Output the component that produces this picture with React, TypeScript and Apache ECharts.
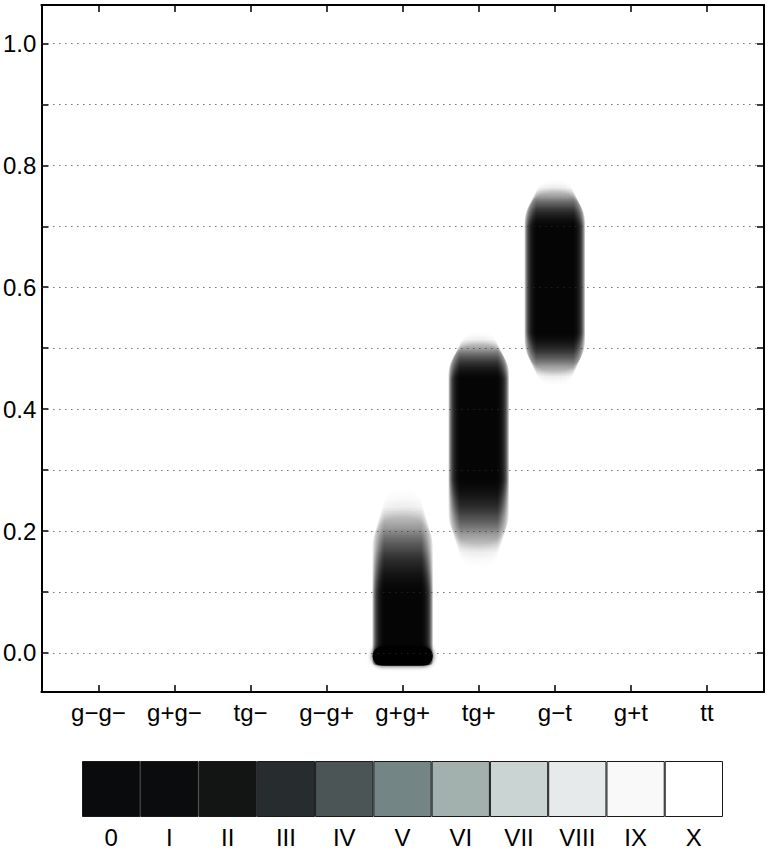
import React, { useEffect, useRef } from 'react';
import * as echarts from 'echarts';

// ---- data ----
const xCategories = ['g−g−', 'g+g−', 'tg−', 'g−g+', 'g+g+', 'tg+', 'g−t', 'g+t', 'tt'];
const xPositions = [1, 2, 3, 4, 5, 6, 7, 8, 9];
const yTickValues = [0, 0.1, 0.2, 0.3, 0.4, 0.5, 0.6, 0.7, 0.8, 0.9, 1.0];
const yLabelValues = [0, 0.2, 0.4, 0.6, 0.8, 1.0];

// density blobs: category position, lower end, dark-core lower, dark-core upper, upper end
const blobCategory = [5, 6, 7];
const blobLow = [-0.02, 0.135, 0.435];
const blobCoreLow = [-0.02, 0.285, 0.525];
const blobCoreHigh = [0.1, 0.45, 0.7];
const blobHigh = [0.275, 0.53, 0.78];

// point mass piled at the lower bound
const pileCategory = [5];
const pileValue = [-0.005];

// grey-level key
const scaleLabels = ['0', 'I', 'II', 'III', 'IV', 'V', 'VI', 'VII', 'VIII', 'IX', 'X'];
const scaleColors = ['#0a0b0c', '#0b0c0d', '#131514', '#272c2f', '#4b5556', '#738584', '#a2b0ae', '#cad4d3', '#e6eaea', '#f9f9f9', '#ffffff'];

const FONT = "'Liberation Sans', Arial, Helvetica, sans-serif";

// fade profile used to shade the tails of each blob (ramp position -> per-layer alpha)
const RAMP_T = [0, 0.2, 0.4, 0.6, 0.8, 1];
const RAMP_A = [0, 0.032, 0.15, 0.35, 0.63, 1];

export default function App() {
  const ref = useRef<HTMLDivElement>(null);
  useEffect(() => {
    if (!ref.current) return;
    const chart = echarts.init(ref.current, undefined, { renderer: 'svg' });

    const blobData = blobCategory.map((c, i) => [c, blobLow[i], blobCoreLow[i], blobCoreHigh[i], blobHigh[i]]);
    const pileData = pileCategory.map((c, i) => [c, pileValue[i]]);

    const renderBlob = (params: any, api: any) => {
      const x = api.value(0);
      const lo = api.value(1), cl = api.value(2), ch = api.value(3), hi = api.value(4);
      const pTop = api.coord([x, hi]);
      const pBot = api.coord([x, lo]);
      const pCH = api.coord([x, ch]);
      const pCL = api.coord([x, cl]);
      const unit = api.size([1, 0])[0];
      const W = unit * 0.79;
      const H = pBot[1] - pTop[1];
      const oCH = (pCH[1] - pTop[1]) / H;
      const oCL = (pCL[1] - pTop[1]) / H;
      const truncated = cl <= lo;
      const stops: any[] = [];
      RAMP_T.forEach((t, j) => {
        stops.push({ offset: oCH * t, color: `rgba(0,0,0,${RAMP_A[j]})` });
      });
      if (truncated) {
        stops.push({ offset: 1, color: 'rgba(0,0,0,1)' });
      } else {
        for (let j = RAMP_T.length - 1; j >= 0; j--) {
          stops.push({ offset: oCL + (1 - oCL) * (1 - RAMP_T[j]), color: `rgba(0,0,0,${RAMP_A[j]})` });
        }
      }
      const grad = new echarts.graphic.LinearGradient(0, pTop[1], 0, pBot[1], stops, true);
      const children: any[] = [];
      const N = 12;
      for (let k = 0; k < N; k++) {
        const f = k / (N - 1);
        const w = W - k * 2;
        const s = 0.72 + 0.28 * f;
        const top = pCH[1] - (pCH[1] - pTop[1]) * s;
        const bot = truncated ? pBot[1] : pCL[1] + (pBot[1] - pCL[1]) * s;
        const rTop = w / 2;
        const rBot = truncated ? 4 : w / 2;
        children.push({
          type: 'rect',
          shape: { x: pTop[0] - w / 2, y: top, width: w, height: bot - top, r: [rTop, rTop, rBot, rBot] },
          style: { fill: grad, opacity: 0.28 },
        });
      }
      return { type: 'group', children };
    };

    const renderPile = (params: any, api: any) => {
      const p = api.coord([api.value(0), api.value(1)]);
      const unit = api.size([1, 0])[0];
      const w = unit * 0.79;
      const h = 19;
      return {
        type: 'rect',
        shape: { x: p[0] - w / 2, y: p[1] - h / 2, width: w, height: h, r: 9 },
        style: { fill: '#000', shadowBlur: 5, shadowColor: 'rgba(0,0,0,0.9)' },
      };
    };

    const xAxisCommon = {
      type: 'value',
      gridIndex: 0,
      min: 0.25,
      max: 9.75,
      axisLine: { show: true, onZero: false, lineStyle: { color: '#000', width: 2 } },
      axisTick: { show: true, inside: true, length: 7, customValues: xPositions, lineStyle: { color: '#000', width: 1.5 } },
      splitLine: { show: false },
    };
    const yAxisCommon = {
      type: 'value',
      gridIndex: 0,
      min: -0.064,
      max: 1.063,
      axisLine: { show: true, onZero: false, lineStyle: { color: '#000', width: 2 } },
      axisTick: { show: true, inside: true, length: 7, customValues: yTickValues, lineStyle: { color: '#000', width: 1.5 } },
      splitLine: { show: false },
    };

    chart.setOption({
      animation: false,
      textStyle: { fontFamily: FONT },
      grid: [
        { left: 39, top: 5, width: 725, height: 687, containLabel: false },
        { left: 82, top: 761, width: 641, height: 56, containLabel: false },
      ],
      xAxis: [
        {
          ...xAxisCommon,
          position: 'bottom',
          axisLabel: {
            show: true,
            customValues: xPositions,
            margin: 8,
            fontSize: 24,
            color: '#000',
            fontFamily: FONT,
            formatter: (v: number) => xCategories[xPositions.indexOf(Math.round(v))] ?? '',
          },
        },
        { ...xAxisCommon, position: 'top', axisLabel: { show: false } },
        {
          type: 'category',
          gridIndex: 1,
          data: scaleLabels,
          axisLine: { show: false },
          axisTick: { show: false },
          axisLabel: { fontSize: 24, color: '#000', margin: 8, fontFamily: FONT },
        },
      ],
      yAxis: [
        {
          ...yAxisCommon,
          position: 'left',
          axisLabel: {
            show: true,
            customValues: yLabelValues,
            margin: 5,
            fontSize: 24,
            color: '#000',
            fontFamily: FONT,
            formatter: (v: number) => v.toFixed(1),
          },
        },
        { ...yAxisCommon, position: 'right', axisLabel: { show: false } },
        { type: 'value', gridIndex: 1, min: 0, max: 1, show: false },
      ],
      series: [
        {
          type: 'line',
          xAxisIndex: 0,
          yAxisIndex: 0,
          data: [],
          z: 1,
          markLine: {
            silent: true,
            symbol: ['none', 'none'],
            label: { show: false },
            animation: false,
            lineStyle: { color: '#333', width: 1, type: [1, 5] },
            data: yTickValues.map((v) => ({ yAxis: v })),
          },
        },
        {
          type: 'custom',
          xAxisIndex: 0,
          yAxisIndex: 0,
          z: 3,
          renderItem: renderBlob,
          data: blobData,
          encode: { x: 0, y: [1, 4] },
        },
        {
          type: 'custom',
          xAxisIndex: 0,
          yAxisIndex: 0,
          z: 4,
          renderItem: renderPile,
          data: pileData,
          encode: { x: 0, y: 1 },
        },
        {
          type: 'bar',
          xAxisIndex: 2,
          yAxisIndex: 2,
          barWidth: '100%',
          data: scaleColors.map((c) => ({ value: 1, itemStyle: { color: c } })),
          itemStyle: { borderColor: '#1a1a1a', borderWidth: 1 },
        },
      ],
    });
    return () => chart.dispose();
  }, []);
  return <div ref={ref} style={{ position: 'absolute', left: 0, top: 0, width: 770, height: 850 }} />;
}
